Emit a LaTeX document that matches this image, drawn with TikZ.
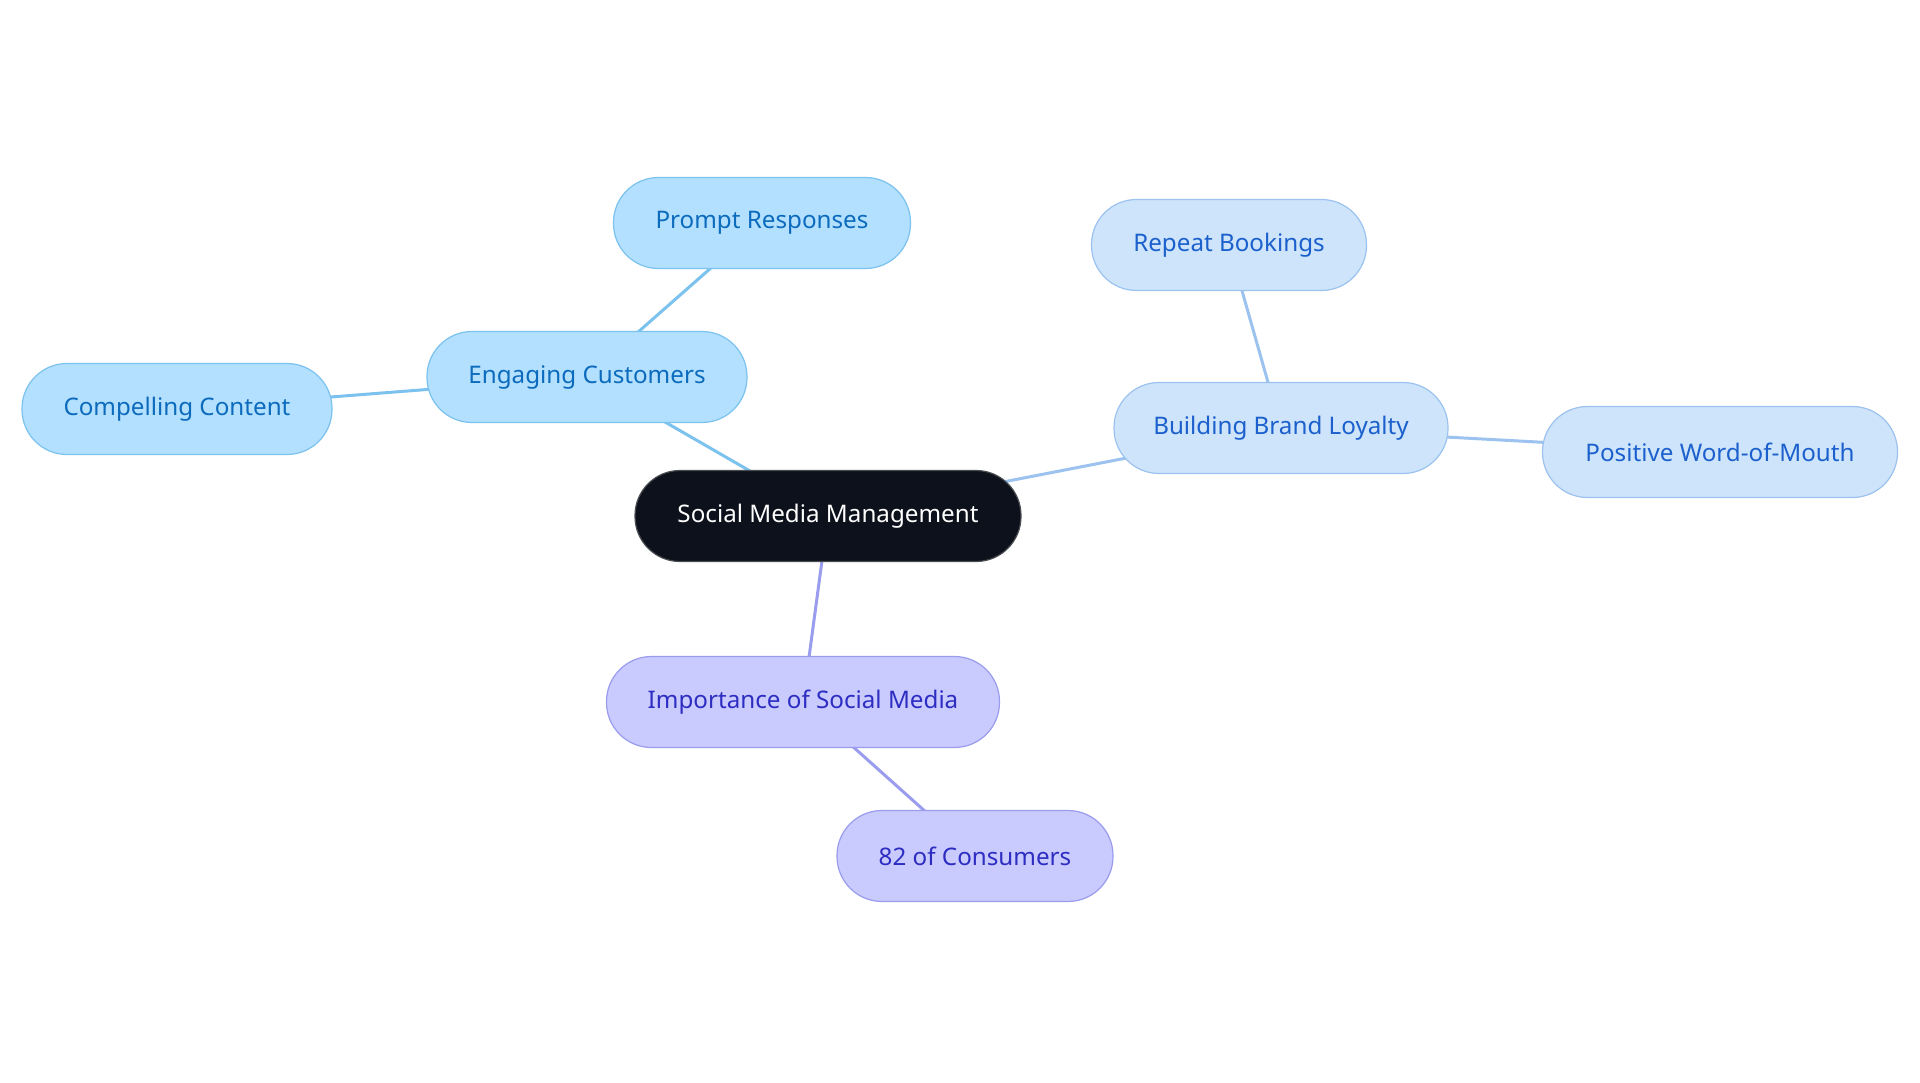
\documentclass[tikz,border=0pt]{standalone}
\usepackage{fontspec}
\setmainfont{Noto Sans}
\usetikzlibrary{backgrounds}
\definecolor{cfillA}{HTML}{B3E0FE}
\definecolor{cdrawA}{HTML}{7CC2EE}
\definecolor{ctextA}{HTML}{0C6BBD}
\definecolor{cfillB}{HTML}{CDE4FB}
\definecolor{cdrawB}{HTML}{9CC3EF}
\definecolor{ctextB}{HTML}{1B60CC}
\definecolor{cfillC}{HTML}{C9CAFD}
\definecolor{cdrawC}{HTML}{9A9CEE}
\definecolor{ctextC}{HTML}{2D2DC2}
\definecolor{cfillM}{HTML}{0C111B}
\definecolor{cdrawM}{HTML}{4A4D52}
\tikzset{
  pill/.style={rounded corners=45pt, minimum height=91pt, inner sep=0pt, line width=1.2pt, font=\fontsize{24.2}{28}\selectfont},
  grpA/.style={pill, fill=cfillA, draw=cdrawA, text=ctextA},
  grpB/.style={pill, fill=cfillB, draw=cdrawB, text=ctextB},
  grpC/.style={pill, fill=cfillC, draw=cdrawC, text=ctextC},
  mainnode/.style={pill, fill=cfillM, draw=cdrawM, text=white},
  linkA/.style={draw=cdrawA, line width=3pt},
  linkB/.style={draw=cdrawB, line width=3pt},
  linkC/.style={draw=cdrawC, line width=3pt},
}
\begin{document}
\begin{tikzpicture}[x=1pt,y=-1pt]
\useasboundingbox (0,0) rectangle (1920,1083);
\node[mainnode, minimum width=386pt] (smm) at (828,516) {Social Media Management};
\node[grpA, minimum width=320pt] (eng) at (587,377) {Engaging Customers};
\node[grpA, minimum width=297pt] (prompt) at (762,223) {Prompt Responses};
\node[grpA, minimum width=310pt] (comp) at (177,409) {Compelling Content};
\node[grpB, minimum width=334pt] (brand) at (1281,428) {Building Brand Loyalty};
\node[grpB, minimum width=275pt] (repeat) at (1229,245) {Repeat Bookings};
\node[grpB, minimum width=355pt] (pos) at (1720,452) {Positive Word-of-Mouth};
\node[grpC, minimum width=393pt] (imp) at (803,702) {Importance of Social Media};
\node[grpC, minimum width=276pt] (cons) at (975,856) {82 of Consumers};
\begin{scope}[on background layer]
\fill[white] (0,0) rectangle (1920,1083);
\draw[linkA] (smm.center) -- (eng.center);
\draw[linkA] (eng.center) -- (prompt.center);
\draw[linkA] (eng.center) -- (comp.center);
\draw[linkB] (smm.center) -- (brand.center);
\draw[linkB] (brand.center) -- (repeat.center);
\draw[linkB] (brand.center) -- (pos.center);
\draw[linkC] (smm.center) -- (imp.center);
\draw[linkC] (imp.center) -- (cons.center);
\end{scope}
\end{tikzpicture}
\end{document}
